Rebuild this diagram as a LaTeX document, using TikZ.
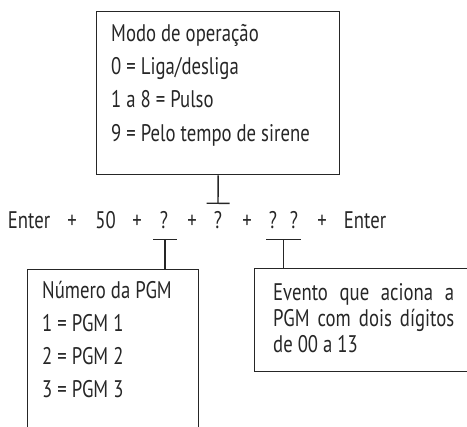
\documentclass[tikz,border=0pt]{standalone}
\usepackage{fontspec}
\setmainfont{PT Sans}[FakeStretch=0.78]
\usetikzlibrary{arrows.meta}
\tikzset{
  txt/.style={anchor=base west, inner sep=0pt},
  seq/.style={anchor=base, inner sep=0pt},
  box/.style={draw, line width=1.4pt, anchor=north west, inner sep=0pt},
  tlink/.style={line width=1.4pt, {Bar[width=#1,line width=1.4pt]}-},
}
\begin{document}
\begin{tikzpicture}[x=1pt,y=-1pt,font=\fontsize{24}{28}\selectfont,black!85]
    \path[use as bounding box, clip] (0,0) rectangle (467,427);
    % caixas
    \node[box, minimum width=243pt, minimum height=163pt] (modo) at (96,11) {};
    \node[box, minimum width=171pt, minimum height=180pt] (pgm) at (27,269) {};
    \node[box, minimum width=230pt, minimum height=103pt] (evt) at (254,268) {};
    % modo de operacao
    \foreach \y/\t [count=\i] in {42/{Modo de operação}, 75/{0 = Liga/desliga}, 108/{1 a 8 = Pulso}, 142/{9 = Pelo tempo de sirene}} {
        \node[txt] (modo\i) at (111,\y) {\t};
    }
    % sequencia
    \foreach \x/\t/\n in {29/Enter/ent1, 72/+/mais1, 105.5/50/cinq, 137/+/mais2, 164/?/qpgm, 192/+/mais3, 218/?/qmodo, 247/+/mais4, 273/?/qev1, 294/?/qev2, 322/+/mais5, 365/Enter/ent2} {
        \node[seq] (\n) at (\x,229) {\t};
    }
    % numero da PGM
    \foreach \y/\t [count=\i] in {299/{Número da PGM}, 332/{1 = PGM 1}, 365/{2 = PGM 2}, 398/{3 = PGM 3}} {
        \node[txt] (pgm\i) at (42,\y) {\t};
    }
    % evento
    \node[txt] (evt1) at (273,301) {\makebox[181pt][s]{Evento que aciona a}};
    \node[txt] (evt2) at (273,327) {\makebox[181pt][s]{PGM com dois dígitos}};
    \node[txt] (evt3) at (273,353) {de 00 a 13};
    % ligacoes
    \coordinate (bmodo) at (218,204);
    \coordinate (bpgm) at (165,239);
    \coordinate (bevt) at (283.5,239);
    \draw[tlink=23pt] (bmodo) -- (modo.south);
    \draw[tlink=24pt] (bpgm) -- (bpgm |- pgm.north);
    \draw[tlink=35pt] (bevt) -- (bevt |- evt.north);
\end{tikzpicture}
\end{document}
